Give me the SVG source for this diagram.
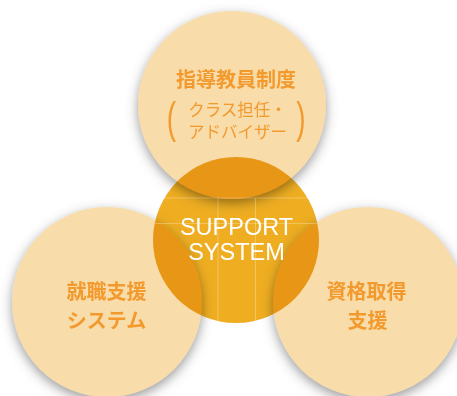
<svg xmlns="http://www.w3.org/2000/svg" width="457" height="396" viewBox="0 0 457 396">
<style>
.peach{fill:#F8DCAA;mix-blend-mode:multiply;filter:url(#sh)}
.jp{font-family:"Noto Sans CJK JP","Noto Sans",sans-serif;fill:#F39A2E;text-anchor:middle}
.b{font-weight:700;font-size:20px}
.n{font-weight:400;font-size:16.5px}
.par{font-family:"Liberation Sans",Arial,sans-serif;fill:#F39A2E;font-size:45px;text-anchor:middle}
.en{font-family:"Liberation Sans",Arial,sans-serif;font-size:23.5px;fill:#FFFFFF;text-anchor:middle}
.grid{stroke:#FFFFFF;stroke-opacity:0.35;stroke-width:0.8;fill:none}
</style>
<defs>
<filter id="sh" x="-30%" y="-30%" width="160%" height="160%">
<feDropShadow dx="0" dy="4" stdDeviation="6" flood-color="#555555" flood-opacity="0.6"/>
</filter>
<clipPath id="cc"><circle cx="236" cy="240" r="83"/></clipPath>
</defs>
<rect width="457" height="396" fill="#FFFFFF"/>
<g id="support-system">
<circle cx="236" cy="240" r="83" fill="#EFAE21"/>
</g>
<g id="node-top">
<circle class="peach" cx="232" cy="105" r="94"/>
</g>
<g id="node-left">
<circle class="peach" cx="107" cy="302" r="95"/>
</g>
<g id="node-right">
<circle class="peach" cx="368" cy="302" r="95"/>
</g>
<g id="connectors" clip-path="url(#cc)">
<line class="grid" x1="150" y1="198" x2="320" y2="198"/>
<line class="grid" x1="150" y1="223.5" x2="320" y2="223.5"/>
<line class="grid" x1="218" y1="198" x2="218" y2="330"/>
<line class="grid" x1="255.5" y1="198" x2="255.5" y2="330"/>
</g>
<g id="label-center">
<text class="en" x="236.5" y="235">SUPPORT<tspan x="236.5" y="260">SYSTEM</tspan></text>
</g>
<g id="label-top">
<text class="jp b" x="236" y="87">指導教員制度</text>
<text class="jp n" x="237.5" y="115.5">クラス担任・<tspan x="237.5" y="138">アドバイザー</tspan></text>
<text class="par" transform="translate(171.5,133) scale(0.62,1)">(</text>
<text class="par" transform="translate(301,133) scale(0.62,1)">)</text>
</g>
<g id="label-left">
<text class="jp b" x="106.5" y="299">就職支援<tspan x="106.5" y="328">システム</tspan></text>
</g>
<g id="label-right">
<text class="jp b" x="366.5" y="299">資格取得<tspan x="367.5" y="328">支援</tspan></text>
</g>
</svg>
